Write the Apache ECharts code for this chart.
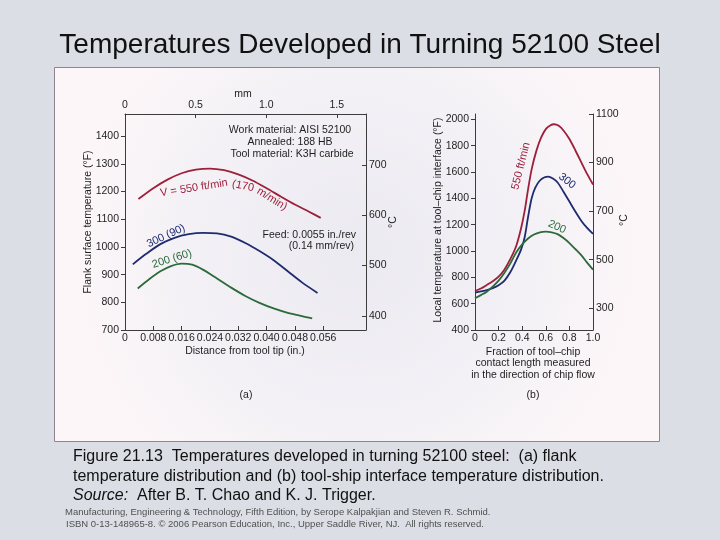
<!DOCTYPE html>
<html><head><meta charset="utf-8">
<script src="https://cdn.jsdelivr.net/npm/echarts@6/dist/echarts.min.js"></script>
<style>html,body{margin:0;padding:0;background:#dcdee6}#c{width:720px;height:540px}</style>
</head><body><div id="c"></div>
<script>
// ---------- DATA ----------
// (a) Flank surface temperature (°F) vs distance from tool tip (in.)
const flankX550 = [0.0038, 0.008, 0.012, 0.016, 0.020, 0.024, 0.028, 0.032, 0.036, 0.040, 0.044, 0.048, 0.052, 0.0553];
const flankT550 = [1173, 1212, 1243, 1266, 1279, 1283, 1277, 1262, 1240, 1212, 1182, 1153, 1127, 1105];
const flankX300 = [0.0022, 0.006, 0.010, 0.014, 0.018, 0.022, 0.026, 0.030, 0.034, 0.038, 0.042, 0.046, 0.050, 0.0544];
const flankT300 = [937, 975, 1010, 1033, 1046, 1051, 1049, 1037, 1014, 985, 952, 912, 872, 834];
const flankX200 = [0.0036, 0.007, 0.010, 0.013, 0.016, 0.019, 0.022, 0.026, 0.030, 0.034, 0.038, 0.042, 0.046, 0.050, 0.0529];
const flankT200 = [850, 885, 912, 931, 940, 936, 918, 886, 853, 823, 798, 778, 762, 750, 742];
// (b) Tool-chip interface temperature (°F) vs fraction of contact length
const ifaceX550 = [0, 0.05, 0.10, 0.15, 0.20, 0.25, 0.30, 0.35, 0.39, 0.42, 0.45, 0.48, 0.52, 0.56, 0.60, 0.64, 0.67, 0.71, 0.75, 0.80, 0.85, 0.90, 0.95, 1.0];
const ifaceT550 = [696, 715, 742, 770, 805, 860, 940, 1040, 1170, 1300, 1470, 1620, 1760, 1860, 1925, 1955, 1962, 1950, 1915, 1850, 1765, 1675, 1585, 1505];
const ifaceX300 = [0, 0.05, 0.10, 0.15, 0.20, 0.25, 0.30, 0.35, 0.39, 0.42, 0.45, 0.48, 0.51, 0.55, 0.59, 0.62, 0.66, 0.70, 0.75, 0.80, 0.85, 0.90, 0.95, 1.0];
const ifaceT300 = [684, 693, 703, 718, 740, 775, 840, 930, 1010, 1100, 1260, 1400, 1480, 1535, 1560, 1564, 1550, 1520, 1450, 1375, 1300, 1230, 1175, 1130];
const ifaceX200 = [0, 0.05, 0.10, 0.15, 0.20, 0.25, 0.30, 0.35, 0.40, 0.45, 0.50, 0.55, 0.60, 0.65, 0.70, 0.75, 0.80, 0.85, 0.90, 0.95, 1.0];
const ifaceT200 = [641, 665, 691, 730, 775, 835, 906, 990, 1050, 1095, 1125, 1142, 1147, 1142, 1128, 1098, 1060, 1015, 968, 912, 858];
// tick labels
const flankInTicks = [0, 0.008, 0.016, 0.024, 0.032, 0.040, 0.048, 0.056];
const flankMmTicks = [0, 0.5, 1.0, 1.5];
const flankFTicks = [700, 800, 900, 1000, 1100, 1200, 1300, 1400];
const flankCTicks = [400, 500, 600, 700];
const ifaceXTicks = [0, 0.2, 0.4, 0.6, 0.8, 1.0];
const ifaceFTicks = [400, 600, 800, 1000, 1200, 1400, 1600, 1800, 2000];
const ifaceCTicks = [300, 500, 700, 900, 1100];

// ---------- CHART ----------
const FONT = '"Liberation Sans", Arial, Helvetica, sans-serif';
const AX = '#3c3c3c', TXT = '#1e1e1e';
const RED = '#9e1f3a', BLUE = '#1f2b6e', GREEN = '#2b6b3a';
const pairs = (xs, ys) => xs.map((x, i) => [x, ys[i]]);
const fmt = d => v => (v === 0 ? '0' : v.toFixed(d));

function axis(extra, ticks, tickInside, margin, formatter) {
  return Object.assign({
    type: 'value',
    axisLine: {show: true, onZero: false, lineStyle: {color: AX, width: 1}},
    splitLine: {show: false},
    axisTick: {show: true, inside: tickInside, length: 4, customValues: ticks, lineStyle: {color: AX, width: 1}},
    axisLabel: {show: true, customValues: ticks, color: TXT, fontSize: 10.5, fontFamily: FONT, margin: margin, formatter: formatter}
  }, extra);
}

function line(xi, yi, xs, ys, color) {
  return {type: 'line', xAxisIndex: xi, yAxisIndex: yi, data: pairs(xs, ys), showSymbol: false,
    smooth: 0.3, lineStyle: {color: color, width: 1.8}, itemStyle: {color: color}, z: 5};
}

function txt(x, y, s, o) {
  o = o || {};
  return {type: 'text', x: x, y: y, rotation: (o.rot || 0) * Math.PI / 180, z: 50,
    style: {text: s, fill: o.color || TXT, font: (o.style || '') + ' ' + (o.size || 10.5) + 'px ' + FONT,
      align: o.align || 'center', verticalAlign: 'middle', textAlign: o.align || 'center', textVerticalAlign: 'middle'}};
}

const chart = echarts.init(document.getElementById('c'));
chart.setOption({
  animation: false,
  backgroundColor: '#dcdee6',
  grid: [
    {left: 125, top: 114, width: 241, height: 216, containLabel: false, outerBoundsMode: 'none'},
    {left: 475, top: 114, width: 118, height: 216, containLabel: false, outerBoundsMode: 'none'}
  ],
  xAxis: [
    axis({gridIndex: 0, position: 'bottom', min: 0, max: 0.0681}, flankInTicks, true, 3, fmt(3)),
    axis({gridIndex: 0, position: 'top', min: 0, max: 1.707}, flankMmTicks, true, 3, fmt(1)),
    axis({gridIndex: 1, position: 'bottom', min: 0, max: 1}, ifaceXTicks, true, 3, fmt(1))
  ],
  yAxis: [
    axis({gridIndex: 0, position: 'left', min: 700, max: 1480}, flankFTicks, false, 6, v => String(v)),
    axis({gridIndex: 0, position: 'right', min: 372, max: 801}, flankCTicks, true, 3, v => String(v)),
    axis({gridIndex: 1, position: 'left', min: 400, max: 2040}, ifaceFTicks, false, 6, v => String(v)),
    axis({gridIndex: 1, position: 'right', min: 210, max: 1100}, ifaceCTicks, true, 3, v => String(v))
  ],
  series: [
    line(0, 0, flankX550, flankT550, RED),
    line(0, 0, flankX300, flankT300, BLUE),
    line(0, 0, flankX200, flankT200, GREEN),
    line(2, 2, ifaceX550, ifaceT550, RED),
    line(2, 2, ifaceX300, ifaceT300, BLUE),
    line(2, 2, ifaceX200, ifaceT200, GREEN)
  ],
  graphic: [
    {type: 'rect', z: -10, shape: {x: 54.5, y: 67.5, width: 605, height: 374},
      style: {fill: {type: 'radial', x: 0.5, y: 0.5, r: 0.75, colorStops: [
        {offset: 0, color: '#ebeaf0'}, {offset: 0.6, color: '#f3f1f6'}, {offset: 1, color: '#fcf6f8'}]},
        stroke: '#8e8494', lineWidth: 1}},
    // slide title and caption
    txt(360, 45, 'Temperatures Developed in Turning 52100 Steel', {size: 28, color: '#111'}),
    txt(73, 457, 'Figure 21.13  Temperatures developed in turning 52100 steel:  (a) flank', {size: 16, align: 'left', color: '#111'}),
    txt(73, 477, 'temperature distribution and (b) tool-ship interface temperature distribution.', {size: 16, align: 'left', color: '#111'}),
    txt(73, 496, 'Source:', {size: 16, align: 'left', style: 'italic', color: '#111'}),
    txt(137, 496, 'After B. T. Chao and K. J. Trigger.', {size: 16, align: 'left', color: '#111'}),
    txt(65, 512, 'Manufacturing, Engineering & Technology, Fifth Edition, by Serope Kalpakjian and Steven R. Schmid.', {size: 9.5, align: 'left', color: '#505050'}),
    txt(66, 524, 'ISBN 0-13-148965-8. \u00a9 2006 Pearson Education, Inc., Upper Saddle River, NJ.  All rights reserved.', {size: 9.5, align: 'left', color: '#505050'}),
    // (a) labels
    txt(243, 94, 'mm'),
    txt(245, 351, 'Distance from tool tip (in.)'),
    txt(246, 395, '(a)'),
    txt(88, 222, 'Flank surface temperature (\u00b0F)', {rot: 90}),
    txt(393, 222, '\u00b0C', {rot: 90}),
    txt(290, 130, 'Work material: AISI 52100'),
    txt(290, 142, 'Annealed: 188 HB'),
    txt(292, 154, 'Tool material: K3H carbide'),
    txt(356, 235, 'Feed: 0.0055 in./rev', {align: 'right'}),
    txt(354, 246, '(0.14 mm/rev)', {align: 'right'}),
    txt(194, 188, 'V = 550 ft/min', {rot: 9, color: RED, size: 11}),
    txt(243, 186, '(170', {rot: -12, color: RED, size: 11}),
    txt(272, 199, 'm/min)', {rot: -32, color: RED, size: 11}),
    txt(166, 236, '300 (90)', {rot: 25, color: BLUE, size: 11}),
    txt(172, 259, '200 (60)', {rot: 17, color: GREEN, size: 11}),
    // (b) labels
    txt(438, 220, 'Local temperature at tool\u2013chip interface (\u00b0F)', {rot: 90}),
    txt(624, 220, '\u00b0C', {rot: 90}),
    txt(533, 352, 'Fraction of tool\u2013chip'),
    txt(533, 363, 'contact length measured'),
    txt(533, 375, 'in the direction of chip flow'),
    txt(533, 395, '(b)'),
    txt(521, 166, '550 ft/min', {rot: 76, color: RED, size: 11}),
    txt(567, 181, '300', {rot: -38, color: BLUE, size: 11}),
    txt(557, 227, '200', {rot: -24, color: GREEN, size: 11})
  ]
});
</script></body></html>
